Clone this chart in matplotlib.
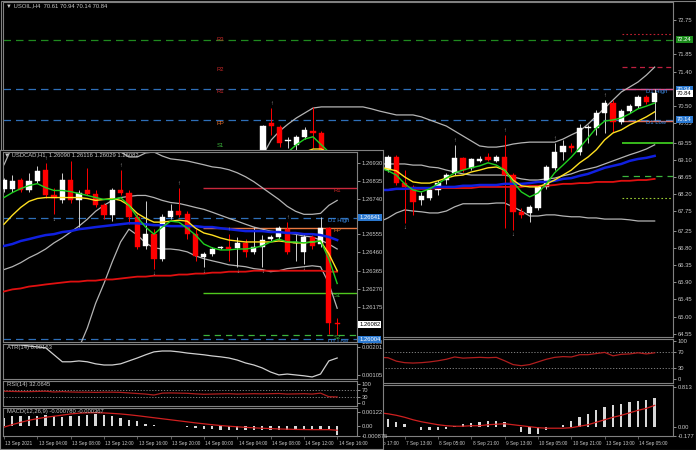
import numpy as np
import matplotlib
matplotlib.use("Agg")
import matplotlib.pyplot as plt
from matplotlib.patches import Rectangle
from matplotlib.transforms import blended_transform_factory, offset_copy

nan = np.nan

# ---------------- USOIL, H4 (main chart) ----------------
# index 0 = first candle visible right of the inset, 7 candles hidden behind it
oil_open = [68.96, 70.06, 69.96, 69.59, 69.49, 69.70, 69.85, 69.80] + [nan] * 7 + [
    68.83, 69.17, 68.49, 68.39, 68.05, 68.10, 68.31, 68.57, 68.76, 69.15, 68.89,
    69.07, 69.17, 69.07, 69.17, 68.70, 67.74, 67.71, 67.84, 68.39, 68.89, 69.30,
    69.46, 69.30, 69.93, 69.93, 70.32, 70.58, 70.09, 70.37, 70.50, 70.74, 70.61]
oil_high = [70.01, 70.45, 70.01, 69.70, 69.75, 69.96, 70.48, 69.85] + [nan] * 7 + [
    69.23, 69.23, 68.83, 68.44, 68.26, 68.36, 68.57, 68.76, 69.49, 69.17, 69.15,
    69.20, 69.28, 69.23, 69.75, 68.76, 67.84, 67.92, 68.44, 68.96, 69.54, 69.62,
    69.54, 70.03, 70.01, 70.40, 70.66, 70.66, 70.43, 70.56, 70.79, 70.79, 70.94]
oil_low = [68.83, 69.75, 69.43, 69.41, 69.36, 69.64, 69.41, 69.09] + [nan] * 7 + [
    68.78, 68.44, 67.45, 67.66, 67.92, 68.05, 68.18, 68.47, 68.70, 68.78, 68.83,
    69.04, 69.07, 69.04, 67.32, 67.27, 67.58, 67.48, 67.79, 68.34, 68.83, 69.09,
    69.30, 69.23, 69.54, 69.75, 69.80, 69.83, 70.03, 70.32, 70.45, 70.56, 70.14]
oil_close = [69.98, 69.98, 69.54, 69.62, 69.70, 69.88, 69.80, 69.23] + [nan] * 7 + [
    69.17, 68.49, 68.39, 68.00, 68.15, 68.31, 68.49, 68.70, 69.15, 68.83, 69.12,
    69.12, 69.09, 69.17, 68.70, 67.74, 67.66, 67.87, 68.39, 68.91, 69.30, 69.46,
    69.41, 69.93, 69.96, 70.32, 70.58, 70.09, 70.37, 70.50, 70.74, 70.61, 70.84]

oil_bb_up = [69.23, 69.62, 69.85, 70.03, 70.19, 70.32, 70.45, 70.48, 70.48, 70.48,
             70.48, 70.48, 70.48, 70.43, 70.37, 70.32, 70.27, 70.27, 70.27, 70.22,
             70.14, 70.06, 69.98, 69.85, 69.72, 69.59, 69.46, 69.43, 69.43, 69.46,
             69.51, 69.54, 69.56, 69.56, 69.56, 69.56, 69.64, 69.75, 69.85, 70.03,
             70.24, 70.45, 70.66, 70.87, 71.00, 71.13, 71.31, 71.52]
oil_bb_mid = [nan] * 14 + [
    68.99, 68.99, 68.99, 68.99, 68.96, 68.96, 68.91, 68.89, 68.83, 68.78, 68.73,
    68.70, 68.70, 68.70, 68.70, 68.70, 68.65, 68.60, 68.57, 68.57, 68.60, 68.62,
    68.68, 68.73, 68.81, 68.86, 68.91, 68.99, 69.07, 69.15, 69.23, 69.30, 69.38, 69.49]
oil_bb_low = [nan] * 14 + [
    67.48, 67.58, 67.71, 67.79, 67.76, 67.74, 67.71, 67.71, 67.76, 67.87, 67.95,
    67.95, 67.95, 67.95, 67.97, 67.97, 67.87, 67.76, 67.63, 67.63, 67.66, 67.66,
    67.63, 67.61, 67.61, 67.58, 67.58, 67.55, 67.55, 67.55, 67.53, 67.50, 67.50, 67.50]
oil_ma_green = [nan, nan, nan, 69.30, 69.49, 69.64, 69.70, 69.49, 69.28] + [nan] * 5 + [
    68.89, 68.81, 68.70, 68.47, 68.31, 68.26, 68.34, 68.47, 68.62, 68.76, 68.83,
    68.89, 68.94, 69.02, 68.96, 68.83, 68.52, 68.26, 68.13, 68.23, 68.47, 68.76,
    68.96, 69.17, 69.41, 69.67, 69.93, 70.11, 70.14, 70.19, 70.30, 70.43, 70.50, 70.58]
oil_ma_yellow = [nan] * 5 + [69.30, 69.38, 69.38, 69.28] + [nan] * 5 + [
    68.91, 68.86, 68.81, 68.65, 68.52, 68.49, 68.49, 68.55, 68.62, 68.68, 68.70,
    68.78, 68.83, 68.89, 68.91, 68.83, 68.57, 68.42, 68.39, 68.39, 68.47, 68.57,
    68.70, 68.83, 69.02, 69.17, 69.36, 69.62, 69.80, 69.88, 70.01, 70.11, 70.22, 70.35]
oil_ma_blue = [nan] * 14 + [
    68.31, 68.31, 68.34, 68.34, 68.36, 68.36, 68.36, 68.39, 68.39, 68.39, 68.42,
    68.42, 68.44, 68.44, 68.44, 68.47, 68.47, 68.47, 68.49, 68.52, 68.52, 68.55,
    68.60, 68.62, 68.68, 68.73, 68.81, 68.89, 68.94, 68.99, 69.07, 69.12, 69.15, 69.20]
oil_ma_red = [nan] * 14 + [
    68.31, 68.31, 68.34, 68.34, 68.34, 68.34, 68.34, 68.36, 68.36, 68.36, 68.36,
    68.36, 68.39, 68.39, 68.39, 68.39, 68.39, 68.39, 68.42, 68.42, 68.42, 68.44,
    68.47, 68.47, 68.49, 68.49, 68.52, 68.52, 68.52, 68.55, 68.55, 68.57, 68.57, 68.60]

oil_rsi = [nan] * 14 + [
    57, 56, 47, 43, 42, 43, 45, 48, 52, 58, 55, 56, 57, 56, 57, 48, 38, 35, 38, 45,
    52, 57, 59, 58, 64, 64, 67, 70, 61, 65, 66, 69, 66, 69]
oil_macd = [nan] * 15 + [
    0.16, 0.11, 0.065, 0.01, -0.05, -0.065, -0.065, -0.03, 0.03, 0.065, 0.08, 0.10,
    0.12, 0.13, 0.11, 0.004, -0.10, -0.14, -0.13, -0.065, 0.01, 0.05, 0.13, 0.20,
    0.26, 0.34, 0.41, 0.44, 0.46, 0.50, 0.53, 0.54, 0.59]
oil_signal = [nan] * 14 + [
    0.29, 0.27, 0.24, 0.20, 0.15, 0.11, 0.08, 0.05, 0.03, 0.02, 0.02, 0.03, 0.03,
    0.05, 0.06, 0.07, 0.05, 0.03, 0.01, -0.01, -0.02, -0.02, -0.02, -0.01, 0.02,
    0.05, 0.10, 0.15, 0.20, 0.24, 0.29, 0.34, 0.38, 0.44]

oil_fractal_up = [1, 23, 29, 35, 41]
oil_fractal_down = [17, 30]

oil_dates = ["6 Sep 17:00", "7 Sep 13:00", "8 Sep 05:00", "8 Sep 21:00", "9 Sep 13:00",
             "10 Sep 05:00", "10 Sep 21:00", "13 Sep 13:00", "14 Sep 05:00"]
oil_date_idx = [13, 17, 21, 25, 29, 33, 37, 41, 45]
oil_ticks = [72.75, 71.85, 71.40, 70.50, 70.05, 69.55, 69.10, 68.65, 68.20, 67.75,
             67.25, 66.80, 66.35, 65.90, 65.45, 65.00, 64.55]
oil_pivot_names = ["R3", "R2", "R1", "PP", "S1"]
oil_pivot_values = [72.24, 71.52, 70.95, 70.11, 69.54]
oil_d1_high, oil_d1_low = 70.94, 70.14
oil_last = 70.84

# ---------------- USDCAD, H1 (inset) ----------------
cad_open = [1.26795, 1.26795, 1.26842, 1.26790, 1.26837, 1.26894, 1.26759, 1.26733,
            1.26842, 1.26733, 1.26785, 1.26764, 1.26707, 1.26655, 1.26785, 1.26774,
            1.26645, 1.26494, 1.26556, 1.26427, 1.26645, 1.26676, 1.26660, 1.26556,
            1.26437, 1.26453, 1.26484, 1.26489, 1.26484, 1.26510, 1.26463, 1.26489,
            1.26530, 1.26541, 1.26582, 1.26510, 1.26463, 1.26541, 1.26504, 1.26587, 1.26090]
cad_high = [1.26852, 1.26868, 1.26852, 1.26878, 1.26914, 1.26930, 1.26800, 1.26878,
            1.26940, 1.26790, 1.26904, 1.26790, 1.26722, 1.26800, 1.26894, 1.26785,
            1.26660, 1.26728, 1.26582, 1.26660, 1.26712, 1.26800, 1.26676, 1.26582,
            1.26463, 1.26489, 1.26494, 1.26556, 1.26541, 1.26530, 1.26593, 1.26551,
            1.26551, 1.26598, 1.26619, 1.26556, 1.26556, 1.26551, 1.26645, 1.26593, 1.26116]
cad_low = [1.26779, 1.26779, 1.26779, 1.26779, 1.26826, 1.26748, 1.26660, 1.26722,
           1.26722, 1.26593, 1.26759, 1.26696, 1.26634, 1.26624, 1.26759, 1.26608,
           1.26478, 1.26478, 1.26375, 1.26416, 1.26634, 1.26645, 1.26530, 1.26416,
           1.26385, 1.26442, 1.26478, 1.26416, 1.26385, 1.26437, 1.26453, 1.26385,
           1.26520, 1.26530, 1.26453, 1.26416, 1.26401, 1.26478, 1.26489, 1.26032, 1.26029]
cad_close = [1.26842, 1.26837, 1.26790, 1.26837, 1.26888, 1.26759, 1.26748, 1.26842,
             1.26733, 1.26774, 1.26764, 1.26707, 1.26655, 1.26785, 1.26774, 1.26645,
             1.26489, 1.26556, 1.26427, 1.26645, 1.26676, 1.26655, 1.26556, 1.26442,
             1.26453, 1.26478, 1.26489, 1.26478, 1.26510, 1.26463, 1.26489, 1.26525,
             1.26541, 1.26587, 1.26463, 1.26515, 1.26541, 1.26494, 1.26587, 1.26090, 1.26082]

cad_ma_green = [1.26748, 1.26774, 1.26795, 1.26811, 1.26821, 1.26800, 1.26785, 1.26785,
                1.26779, 1.26769, 1.26759, 1.26748, 1.26738, 1.26738, 1.26748, 1.26707,
                1.26645, 1.26593, 1.26556, 1.26593, 1.26624, 1.26619, 1.26587, 1.26551,
                1.26504, 1.26484, 1.26473, 1.26473, 1.26478, 1.26478, 1.26484, 1.26494,
                1.26515, 1.26530, 1.26515, 1.26515, 1.26510, 1.26515, 1.26520, 1.26427, 1.26297]
cad_ma_yellow = [1.26608, 1.26655, 1.26696, 1.26728, 1.26743, 1.26748, 1.26748, 1.26748,
                 1.26748, 1.26748, 1.26743, 1.26733, 1.26738, 1.26743, 1.26733, 1.26707,
                 1.26665, 1.26639, 1.26619, 1.26619, 1.26624, 1.26629, 1.26624, 1.26587,
                 1.26562, 1.26551, 1.26536, 1.26525, 1.26520, 1.26515, 1.26515, 1.26515,
                 1.26515, 1.26520, 1.26515, 1.26510, 1.26510, 1.26515, 1.26520, 1.26453, 1.26364]
cad_ma_blue = [1.26494, 1.26504, 1.26520, 1.26530, 1.26541, 1.26551, 1.26556, 1.26567,
               1.26572, 1.26582, 1.26587, 1.26593, 1.26598, 1.26603, 1.26608, 1.26613,
               1.26613, 1.26608, 1.26603, 1.26603, 1.26598, 1.26598, 1.26598, 1.26598,
               1.26593, 1.26593, 1.26587, 1.26582, 1.26577, 1.26572, 1.26572, 1.26572,
               1.26567, 1.26567, 1.26562, 1.26562, 1.26556, 1.26556, 1.26551, 1.26541, 1.26525]
cad_ma_red = [1.26255, 1.26266, 1.26271, 1.26281, 1.26286, 1.26292, 1.26297, 1.26302,
              1.26307, 1.26307, 1.26312, 1.26312, 1.26318, 1.26318, 1.26323, 1.26328,
              1.26333, 1.26333, 1.26338, 1.26338, 1.26338, 1.26344, 1.26344, 1.26349,
              1.26349, 1.26354, 1.26354, 1.26359, 1.26359, 1.26359, 1.26364, 1.26364,
              1.26364, 1.26364, 1.26364, 1.26364, 1.26364, 1.26364, 1.26364, 1.26359, 1.26359]
cad_bb_up = [1.26920, 1.27018] + [nan] * 11 + [
    1.27018, 1.26987, 1.26961, 1.26961, 1.26982, 1.26987, 1.26966, 1.26951, 1.26946,
    1.26940, 1.26930, 1.26920, 1.26909, 1.26904, 1.26894, 1.26878, 1.26857, 1.26831,
    1.26800, 1.26769, 1.26738, 1.26702, 1.26676, 1.26660, 1.26660, 1.26665, 1.26707, 1.26733]
cad_bb_mid = [1.26370, 1.26385, 1.26406, 1.26432, 1.26453, 1.26478, 1.26510, 1.26536,
              1.26567, 1.26598, 1.26634, 1.26676, 1.26707, 1.26733, 1.26748, 1.26754,
              1.26759, 1.26759, 1.26748, 1.26733, 1.26722, 1.26717, 1.26707, 1.26696,
              1.26686, 1.26671, 1.26655, 1.26639, 1.26624, 1.26608, 1.26593, 1.26582,
              1.26572, 1.26567, 1.26562, 1.26556, 1.26546, 1.26541, 1.26525, 1.26504, 1.26478]
cad_bb_low = [nan] * 9 + [
    1.25960, 1.26063, 1.26193, 1.26297, 1.26411, 1.26515, 1.26582, 1.26551, 1.26510,
    1.26484, 1.26478, 1.26478, 1.26473, 1.26463, 1.26442, 1.26427, 1.26416, 1.26406,
    1.26395, 1.26390, 1.26385, 1.26375, 1.26370, 1.26359, 1.26364, 1.26375, 1.26380,
    1.26385, 1.26390, 1.26385, 1.26297, 1.26167]

cad_atr = [0.00211, 0.00208, 0.00208, 0.00204, 0.00201, 0.00198, 0.00174, 0.00150,
           0.00150, 0.00153, 0.00150, 0.00143, 0.00139, 0.00139, 0.00143, 0.00153,
           0.00163, 0.00174, 0.00184, 0.00187, 0.00187, 0.00184, 0.00180, 0.00177,
           0.00174, 0.00170, 0.00167, 0.00163, 0.00156, 0.00146, 0.00139, 0.00129,
           0.00115, 0.00105, 0.00108, 0.00105, 0.00102, 0.00098, 0.00108, 0.00153, 0.00163]
cad_rsi = [62, 61, 60, 60, 61, 62, 58, 60, 58, 57, 57, 56, 57, 57, 56, 53, 50, 47, 42,
           52, 53, 52, 51, 48, 46, 47, 48, 49, 47, 48, 49, 48, 49, 50, 47, 48, 49, 47,
           52, 33, 32]
cad_macd = [0.00073, 0.00084, 0.00084, 0.00084, 0.00084, 0.00093, 0.00084, 0.00078,
            0.00084, 0.00084, 0.00093, 0.00102, 0.00093, 0.00084, 0.00073, 0.00055,
            0.00044, 0.00020, 0.00009, 0.00003, -0.00003, 0.00002, -0.00006, -0.00017,
            -0.00026, -0.00029, -0.00032, -0.00035, -0.00038, -0.00038, -0.00038,
            -0.00038, -0.00038, -0.00035, -0.00038, -0.00038, -0.00035, -0.00032,
            -0.00032, -0.00029, -0.00078]
cad_signal = [-0.00010, 0.00012, 0.00032, 0.00050, 0.00064, 0.00076, 0.00085, 0.00095,
              0.00105, 0.00112, 0.00115, 0.00116, 0.00114, 0.00110, 0.00105, 0.00098,
              0.00090, 0.00081, 0.00072, 0.00063, 0.00054, 0.00045, 0.00036, 0.00027,
              0.00019, 0.00011, 0.00004, -0.00002, -0.00007, -0.00012, -0.00016,
              -0.00020, -0.00023, -0.00026, -0.00028, -0.00030, -0.00031, -0.00032,
              -0.00032, -0.00032, -0.00037]

cad_fractal_up = [5, 14, 21, 27, 34]
cad_fractal_down = [6, 18, 24, 28, 31, 36]

cad_dates = ["13 Sep 2021", "13 Sep 04:00", "13 Sep 08:00", "13 Sep 12:00", "13 Sep 16:00",
             "13 Sep 20:00", "14 Sep 00:00", "14 Sep 04:00", "14 Sep 08:00", "14 Sep 12:00",
             "14 Sep 16:00"]
cad_date_idx = [0, 4, 8, 12, 16, 20, 24, 28, 32, 36, 40]
cad_ticks = [1.26930, 1.26835, 1.26740, 1.26555, 1.26460, 1.26365, 1.26270, 1.26175, 1.25990]
cad_pivot_names = ["R1", "PP", "S1", "S2"]
cad_pivot_values = [1.26800, 1.26587, 1.26245, 1.26027]
cad_d1_high, cad_d1_low = 1.26641, 1.26004
cad_last = 1.26082

# ---------------- drawing ----------------
plt.rcParams["font.family"] = ["Liberation Sans", "DejaVu Sans"]
W, H = 696, 450
fig = plt.figure(figsize=(W / 100, H / 100), dpi=100, facecolor="black")

GRID = "#808080"
TXT = "#c8c8c8"
FS = 4.2
FS_DATE = 3.4


def px_axes(x0, y0, x1, y1, z=1):
    ax = fig.add_axes([x0 / W, 1 - y1 / H, (x1 - x0) / W, (y1 - y0) / H], zorder=z)
    ax.set_facecolor("black")
    for s in ax.spines.values():
        s.set_color(GRID)
        s.set_linewidth(0.8)
    ax.tick_params(axis="x", bottom=False, labelbottom=False)
    ax.yaxis.tick_right()
    ax.tick_params(axis="y", colors=TXT, labelsize=FS, length=2, width=0.5, pad=1.2)
    return ax


def candles(ax, o, h, l, c):
    o, h, l, c = (np.asarray(a, dtype=float) for a in (o, h, l, c))
    x = np.arange(len(o))
    ok = ~np.isnan(o)
    up = ok & (c >= o)
    dn = ok & (c < o)
    rng = ax.get_ylim()[1] - ax.get_ylim()[0]
    for m, body, wick in ((up, "white", "#d0d0d0"), (dn, "#ff0000", "#ff0000")):
        ax.vlines(x[m], l[m], h[m], color=wick, lw=0.7, zorder=3)
        bottom = np.minimum(o, c)[m]
        height = np.maximum(np.abs(c - o)[m], rng * 0.002)
        ax.bar(x[m], height, 0.62, bottom=bottom, color=body, edgecolor=body,
               lw=0.3, zorder=4)


def tag(ax, value, text, fc, tc="white"):
    tr = blended_transform_factory(ax.transAxes, ax.transData)
    ax.text(1.006, value, text, transform=tr, ha="left", va="center", fontsize=FS,
            color=tc, bbox=dict(boxstyle="square,pad=0.18", fc=fc, ec="none"),
            clip_on=False, zorder=20)


def fractals(ax, idx, vals, up):
    tr = offset_copy(ax.transData, fig=fig, y=3 if up else -3.5, units="points")
    for i in idx:
        ax.text(i, vals[i], "\u2191" if up else "\u2193", transform=tr, ha="center",
                va="center", fontsize=4, color="#a8a8a8", zorder=6)


def date_labels(ax, idx, labels):
    ax.set_xticks(idx)
    ax.tick_params(axis="x", bottom=True, length=2, width=0.5, color=GRID, labelbottom=False)
    tr = offset_copy(blended_transform_factory(ax.transData, ax.transAxes), fig=fig,
                     x=1, y=-5.5, units="points")
    for i, t in zip(idx, labels):
        ax.text(i, 0, t, transform=tr, ha="left", va="center", fontsize=FS_DATE,
                color=TXT, clip_on=False)


# ----- oil main -----
oil_xlim = (-31.2, 49.2)
ax = px_axes(3, 2, 673, 337)
ax.set_xlim(*oil_xlim)
ax.set_ylim(64.47, 73.22)
ax.set_yticks(oil_ticks)
ax.set_yticklabels([f"{v:.2f}" for v in oil_ticks])
x_oil = np.arange(len(oil_open))

ax.axhline(oil_pivot_values[0], color="#1f8a1f", lw=0.9, ls=(0, (6, 4)), zorder=1)
ax.axhline(oil_d1_high, color="#2e6fb8", lw=0.9, ls=(0, (6, 4)), zorder=1)
ax.axhline(oil_d1_low, color="#2e6fb8", lw=0.9, ls=(0, (6, 4)), zorder=1)
right = (43.1, oil_xlim[1])
ax.hlines(72.38, *right, color="#c02030", lw=0.8, ls=(0, (1.5, 2)))
ax.hlines(oil_pivot_values[1], *right, color="#c02040", lw=0.9, ls=(0, (4, 3)))
ax.hlines(oil_pivot_values[2], *right, color="#e0508a", lw=1.0)
ax.hlines(oil_pivot_values[3], *right, color="#e07060", lw=1.0)
ax.hlines(oil_pivot_values[4], *right, color="#3cc81e", lw=1.3)
ax.hlines(68.68, *right, color="#3cb43c", lw=0.9, ls=(0, (5, 4)))
ax.hlines(68.10, *right, color="#9acd32", lw=0.8, ls=(0, (1.5, 2)))

pivot_colors = ["#c82828", "#c82828", "#c82828", "#e8702a", "#3cb43c"]
for name, val, col in zip(oil_pivot_names, oil_pivot_values, pivot_colors):
    va = "center" if name == "R3" else "top"
    ax.text(-5.6, val, name, color=col, fontsize=FS, ha="left", va=va, zorder=6)
ax.text(46.0, oil_d1_high, "D1 High", color="#3c8ce6", fontsize=FS, ha="left", va="top")
ax.text(46.0, oil_d1_low, "D1 Low", color="#3c8ce6", fontsize=FS, ha="left", va="top")

ax.plot(x_oil, oil_bb_up, color="#b4b4b4", lw=0.9, zorder=2)
ax.plot(x_oil, oil_bb_mid, color="#b4b4b4", lw=0.9, zorder=2)
ax.plot(x_oil, oil_bb_low, color="#b4b4b4", lw=0.9, zorder=2)
candles(ax, oil_open, oil_high, oil_low, oil_close)
ax.plot(x_oil, oil_ma_red, color="#e01010", lw=1.3, zorder=5)
ax.plot(x_oil, oil_ma_blue, color="#1020e0", lw=1.8, zorder=5)
ax.plot(x_oil, oil_ma_yellow, color="#ffe020", lw=1.0, zorder=5)
ax.plot(x_oil, oil_ma_green, color="#20d020", lw=1.0, zorder=5)
fractals(ax, oil_fractal_up, oil_high, True)
fractals(ax, oil_fractal_down, oil_low, False)

tag(ax, oil_pivot_values[0], "72.24", "#1c8c1c")
tag(ax, oil_d1_high, "70.94", "#2a78d0")
tag(ax, oil_last, "70.84", "white", "black")
tag(ax, oil_d1_low, "70.14", "#2a78d0")
ax.text(0.004, 0.995, "\u25bc USOIL,H4  70.61 70.94 70.14 70.84", transform=ax.transAxes,
        ha="left", va="top", fontsize=FS, color=TXT)

# ----- oil RSI -----
ax = px_axes(3, 339, 673, 383)
ax.set_xlim(*oil_xlim)
ax.set_ylim(-10.5, 105.3)
ax.set_yticks([100, 70, 30, 0])
ax.set_yticklabels(["100", "70", "30", "0"])
for lvl in (70, 30):
    ax.axhline(lvl, color="#909090", lw=0.6, ls=(0, (1.5, 2)))
ax.plot(x_oil, oil_rsi, color="#b01e1e", lw=0.9)

# ----- oil MACD -----
ax = px_axes(3, 385, 673, 436)
ax.set_xlim(*oil_xlim)
ax.set_ylim(-0.177, 0.85)
ax.set_yticks([0.813, 0.0, -0.177])
ax.set_yticklabels(["0.813", "0.00", "-0.177"])
ax.bar(x_oil, np.nan_to_num(oil_macd), 0.28, color="#d8d8d8")
ax.plot(x_oil, oil_signal, color="#d02020", lw=0.9)
date_labels(ax, oil_date_idx, oil_dates)

# ----- inset (USDCAD) -----
bg = px_axes(0, 150, 383, 449, z=5)
bg.set_xticks([])
bg.set_yticks([])

cad_xlim = (-0.12, 42.38)
x_cad = np.arange(len(cad_open))

ax = px_axes(3, 152, 357, 342, z=6)
ax.set_xlim(*cad_xlim)
ax.set_ylim(1.25990, 1.26987)
ax.set_yticks(cad_ticks)
ax.set_yticklabels([f"{v:.5f}" for v in cad_ticks])
ax.axhline(cad_d1_high, color="#2e6fb8", lw=0.9, ls=(0, (6, 4)), zorder=1)
ax.axhline(cad_d1_low, color="#2e6fb8", lw=0.9, ls=(0, (6, 4)), zorder=1)
right = (23.9, cad_xlim[1])
ax.hlines(cad_pivot_values[0], *right, color="#c8283c", lw=1.0, zorder=1)
ax.hlines(cad_pivot_values[1], *right, color="#e87840", lw=1.0, zorder=1)
ax.hlines(cad_pivot_values[2], *right, color="#50c81e", lw=1.0, zorder=1)
ax.hlines(cad_pivot_values[3], *right, color="#3cb43c", lw=0.9, ls=(0, (5, 4)), zorder=1)
cad_label_colors = ["#c82828", "#e8702a", "#3cb43c", "#3cb43c"]
for name, val, col in zip(cad_pivot_names, cad_pivot_values, cad_label_colors):
    ax.text(39.6, val, name, color=col, fontsize=FS, ha="left", va="top", zorder=7)
ax.text(38.9, cad_d1_high, "D1 High", color="#3c8ce6", fontsize=FS, ha="left", va="top", zorder=7)
ax.text(38.9, cad_d1_low, "D1 Low", color="#3c8ce6", fontsize=FS, ha="left", va="top",
        zorder=7, clip_on=True)

ax.plot(x_cad, cad_bb_up, color="#b4b4b4", lw=0.9, zorder=2)
ax.plot(x_cad, cad_bb_mid, color="#b4b4b4", lw=0.9, zorder=2)
ax.plot(x_cad, cad_bb_low, color="#b4b4b4", lw=0.9, zorder=2)
candles(ax, cad_open, cad_high, cad_low, cad_close)
ax.plot(x_cad, cad_ma_red, color="#e01010", lw=1.3, zorder=5)
ax.plot(x_cad, cad_ma_blue, color="#1020e0", lw=1.8, zorder=5)
ax.plot(x_cad, cad_ma_yellow, color="#ffe020", lw=1.0, zorder=5)
ax.plot(x_cad, cad_ma_green, color="#20d020", lw=1.0, zorder=5)
fractals(ax, cad_fractal_up, cad_high, True)
fractals(ax, cad_fractal_down, cad_low, False)
tag(ax, cad_d1_high, "1.26641", "#2a78d0")
tag(ax, cad_last, "1.26082", "white", "black")
tag(ax, cad_d1_low, "1.26004", "#2a78d0")
ax.text(0.004, 0.998, "\u25bc USDCAD,H1  1.26090 1.26116 1.26029 1.26082",
        transform=ax.transAxes, ha="left", va="top", fontsize=FS, color=TXT, zorder=8)

# ATR
ax = px_axes(3, 344, 357, 379, z=6)
ax.set_xlim(*cad_xlim)
ax.set_ylim(0.00091, 0.00211)
ax.set_yticks([0.00201, 0.00105])
ax.set_yticklabels(["0.00201", "0.00105"])
ax.plot(x_cad, cad_atr, color="#d0d0d0", lw=0.9)
ax.text(0.01, 0.96, "ATR(14) 0.00163", transform=ax.transAxes, ha="left", va="top",
        fontsize=FS, color=TXT)

# RSI
ax = px_axes(3, 381, 357, 406, z=6)
ax.set_xlim(*cad_xlim)
ax.set_ylim(-16, 116)
ax.set_yticks([100, 70, 30, 0])
ax.set_yticklabels(["100", "70", "30", "0"])
for lvl in (70, 30):
    ax.axhline(lvl, color="#909090", lw=0.6, ls=(0, (1.5, 2)))
ax.plot(x_cad, cad_rsi, color="#b01e1e", lw=0.9)
ax.text(0.01, 0.97, "RSI(14) 32.0645", transform=ax.transAxes, ha="left", va="top",
        fontsize=FS, color=TXT)

# MACD
ax = px_axes(3, 408, 357, 436, z=6)
ax.set_xlim(*cad_xlim)
ax.set_ylim(-0.00087, 0.00157)
ax.set_yticks([0.00122, 0.0, -0.000875])
ax.set_yticklabels(["0.00122", "0.00", "-0.000875"])
ax.bar(x_cad, cad_macd, 0.28, color="#d8d8d8")
ax.plot(x_cad, cad_signal, color="#d02020", lw=0.9)
ax.text(0.01, 0.97, "MACD(12,26,9) -0.000780 -0.000367", transform=ax.transAxes,
        ha="left", va="top", fontsize=FS, color=TXT)
date_labels(ax, cad_date_idx, cad_dates)

fig.patches.append(Rectangle((0.5 / W, 0.5 / H), 1 - 1 / W, 1 - 1 / H,
                             transform=fig.transFigure, fill=False, ec=GRID, lw=0.8))

fig.savefig("out.png", dpi=100, facecolor="black")
